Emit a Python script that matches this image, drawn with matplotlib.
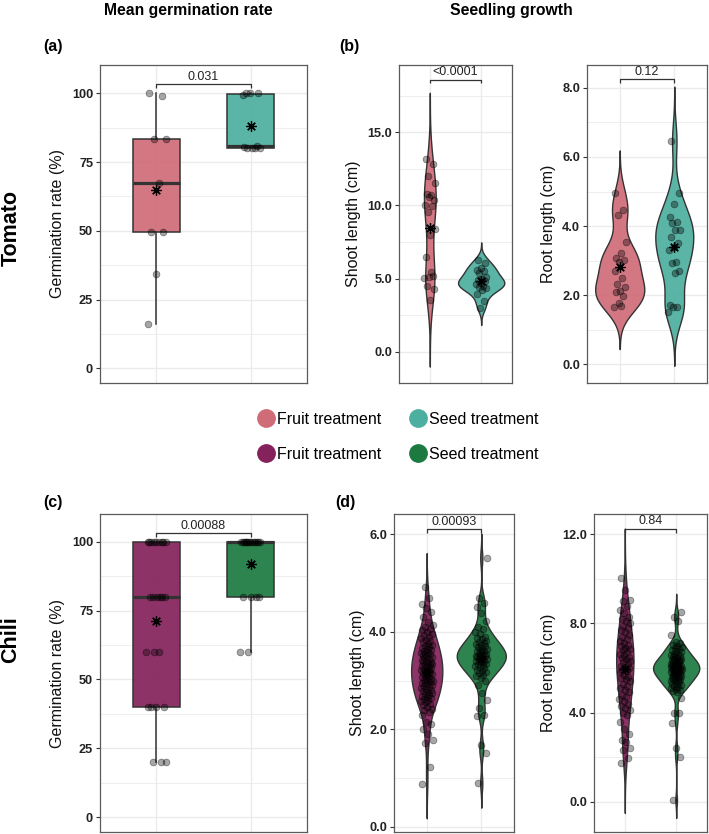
import numpy as np
import matplotlib
matplotlib.use("Agg")
import matplotlib.pyplot as plt
from matplotlib.lines import Line2D
from matplotlib.ticker import MultipleLocator, FormatStrFormatter

plt.rcParams['font.family'] = ['Liberation Sans', 'DejaVu Sans']

# ---------------- data ----------------
groups = ["Fruit treatment", "Seed treatment"]

# Tomato germination rate (%)
tom_germ_fruit = [100, 99, 83.3, 83.3, 67.5, 49.5, 49.5, 34.5, 16]
tom_germ_seed = [100, 100, 100, 99.5, 80, 80, 80, 80, 80.5, 81]
tom_germ_p = "0.031"

# Tomato shoot length (cm)
tom_shoot_fruit = [13.15, 12.8, 12.0, 11.5, 10.7, 10.8, 10.4, 10.6, 10.0, 9.98, 9.53,
                   8.4, 8.0, 6.45, 5.17, 5.1, 5.06, 5.42, 4.49, 4.3, 3.53]
tom_shoot_seed = [6.3, 6.05, 5.75, 5.6, 5.55, 5.35, 5.1, 5.0, 4.9, 4.8, 4.7, 4.6, 4.5,
                  4.45, 4.35, 4.2, 3.95, 3.5, 3.0]
tom_shoot_p = "<0.0001"

# Tomato root length (cm)
tom_root_fruit = [4.96, 4.46, 4.31, 3.54, 3.21, 3.07, 3.02, 2.97, 2.71, 2.49, 2.32, 2.25,
                  2.11, 2.08, 1.98, 1.78, 1.67, 1.70]
tom_root_seed = [6.47, 4.95, 4.64, 4.25, 4.13, 4.10, 3.88, 3.88, 3.69, 3.5, 3.40, 3.30,
                 2.97, 2.93, 2.71, 2.65, 1.72, 1.67, 1.66, 1.52]
tom_root_p = "0.12"

# Chili germination rate (%)
chi_germ_fruit = [100] * 9 + [80] * 6 + [60] * 3 + [40] * 4 + [20] * 3
chi_germ_seed = [100] * 14 + [80] * 4 + [60] * 2
chi_germ_p = "0.00088"

# Chili shoot length (cm)
chi_shoot_fruit = [0.87, 1.23, 1.72, 1.78, 1.9, 2.0, 2.1, 2.15, 2.3, 2.35, 2.4, 2.42, 2.45,
                   2.5, 2.52, 2.55, 2.57, 2.6, 2.62, 2.65, 2.66, 2.69, 2.71, 2.73, 2.75,
                   2.77, 2.79, 2.81, 2.83, 2.85, 2.87, 2.89, 2.91, 2.92, 2.94, 2.96, 2.97,
                   2.99, 3.01, 3.02, 3.04, 3.06, 3.08, 3.1, 3.11, 3.13, 3.14, 3.16, 3.17,
                   3.19, 3.21, 3.23, 3.24, 3.26, 3.27, 3.29, 3.31, 3.32, 3.34, 3.36, 3.38,
                   3.39, 3.41, 3.43, 3.44, 3.46, 3.48, 3.5, 3.52, 3.54, 3.55, 3.57, 3.59,
                   3.61, 3.63, 3.65, 3.67, 3.69, 3.71, 3.74, 3.76, 3.79, 3.81, 3.84, 3.87,
                   3.9, 3.93, 3.96, 4.0, 4.03, 4.06, 4.1, 4.15, 4.2, 4.3, 4.4, 4.5, 4.58,
                   4.7, 4.92]
chi_shoot_seed = [0.89, 1.52, 1.67, 2.28, 2.3, 2.43, 2.6, 2.75, 2.9, 3.0, 3.05, 3.1, 3.12,
                  3.15, 3.18, 3.2, 3.22, 3.25, 3.28, 3.3, 3.32, 3.35, 3.35, 3.38, 3.4, 3.4,
                  3.42, 3.45, 3.45, 3.48, 3.5, 3.5, 3.5, 3.52, 3.55, 3.55, 3.58, 3.6, 3.6,
                  3.62, 3.65, 3.65, 3.68, 3.7, 3.72, 3.75, 3.78, 3.8, 3.82, 3.85, 3.88, 3.9,
                  3.95, 4.0, 4.05, 4.1, 4.23, 4.38, 4.51, 4.6, 4.69, 5.52]
chi_shoot_p = "0.00093"

# Chili root length (cm)
chi_root_fruit = [1.72, 1.95, 2.32, 2.4, 2.7, 2.77, 3.02, 3.25, 3.59, 3.9, 4.0, 4.1, 4.2,
                  4.3, 4.4, 4.5, 4.6, 4.7, 4.8, 4.9, 5.0, 5.1, 5.2, 5.3, 5.4, 5.5, 5.55,
                  5.6, 5.7, 5.8, 5.85, 5.9, 6.0, 6.05, 6.1, 6.2, 6.25, 6.3, 6.4, 6.45, 6.5,
                  6.6, 6.65, 6.7, 6.8, 6.85, 6.9, 7.0, 7.05, 7.1, 7.2, 7.3, 7.4, 7.5, 7.6,
                  7.7, 7.8, 7.9, 8.0, 8.1, 8.2, 8.3, 8.45, 8.6, 8.8, 9.0, 9.05, 9.5, 10.03]
chi_root_seed = [0.07, 2.0, 2.42, 3.52, 4.0, 4.0, 4.64, 4.9, 4.95, 5.0, 5.05, 5.1, 5.15,
                 5.2, 5.25, 5.3, 5.3, 5.35, 5.4, 5.4, 5.45, 5.5, 5.5, 5.55, 5.6, 5.6, 5.62,
                 5.65, 5.7, 5.7, 5.72, 5.75, 5.8, 5.8, 5.82, 5.85, 5.88, 5.9, 5.9, 5.92,
                 5.95, 5.98, 6.0, 6.0, 6.02, 6.05, 6.08, 6.1, 6.1, 6.12, 6.15, 6.18, 6.2,
                 6.2, 6.25, 6.28, 6.3, 6.3, 6.35, 6.38, 6.4, 6.42, 6.45, 6.5, 6.52, 6.55,
                 6.6, 6.62, 6.65, 6.7, 6.75, 6.8, 6.85, 6.9, 6.95, 7.0, 7.05, 7.1, 7.18,
                 7.48, 8.1, 8.3, 8.53]
chi_root_p = "0.84"

# ---------------- style ----------------
TOM_FRUIT = '#D06B78'
TOM_SEED = '#4DAF9F'
CHI_FRUIT = '#85215B'
CHI_SEED = '#1C7A40'
EDGE = '#333333'
GRID = '#EBEBEB'

W, H = 709, 834
fig = plt.figure(figsize=(W / 100, H / 100), dpi=100)


def add_ax(x0, y0, x1, y1):
    return fig.add_axes([x0 / W, 1 - y1 / H, (x1 - x0) / W, (y1 - y0) / H])


def jitter(n, w, phase=0.0):
    return ((np.arange(n) * 0.6180339887 + phase) % 1.0 - 0.5) * 2 * w


def style_axes(ax, ylim, major, minor, fmt, ylabel, labx):
    ax.set_xlim(0.4, 2.6)
    ax.set_ylim(*ylim)
    ax.set_xticks([1, 2])
    ax.set_xticklabels([])
    ax.tick_params(axis='x', length=0)
    ax.yaxis.set_major_locator(MultipleLocator(major))
    ax.yaxis.set_minor_locator(MultipleLocator(minor))
    ax.yaxis.set_major_formatter(FormatStrFormatter(fmt))
    ax.tick_params(axis='y', which='major', length=3, width=0.8, color=EDGE,
                   labelsize=9.2, labelcolor='#222222', pad=2)
    ax.tick_params(axis='y', which='minor', length=0)
    for lab in ax.get_yticklabels():
        lab.set_fontweight('bold')
    ax.grid(True, which='major', axis='both', color=GRID, lw=1.0, zorder=0)
    ax.grid(True, which='minor', axis='y', color=GRID, lw=0.6, zorder=0)
    ax.set_axisbelow(True)
    for s in ax.spines.values():
        s.set_color('#5a5a5a')
        s.set_linewidth(0.9)
    ax.set_ylabel(ylabel, fontsize=11.5, color='#111111')
    ax.yaxis.set_label_coords(labx, 0.5)
    ax.yaxis.label.set_va('center')


def bracket(ax, y, tick, text):
    ax.plot([1, 1, 2, 2], [y - tick, y, y, y - tick], color=EDGE, lw=0.9, zorder=6,
            solid_capstyle='butt')
    ax.text(1.5, y + tick * 0.4, text, ha='center', va='bottom', fontsize=9,
            color='#222222', zorder=6)


def draw_points(ax, datasets, w=0.11):
    for i, d in enumerate(datasets):
        d = np.asarray(d, float)
        xs = (i + 1) + jitter(len(d), w, 0.13 * (i + 1))
        ax.scatter(xs, d, s=24, facecolor=(0, 0, 0, 0.35), edgecolor=(0, 0, 0, 0.45),
                   linewidth=0.5, zorder=4)


def draw_means(ax, datasets):
    for i, d in enumerate(datasets):
        ax.plot([i + 1], [np.mean(d)], ls='', marker=(8, 2, 0), markersize=7.5,
                mew=0.9, color='black', zorder=5)


def box_panel(ax, datasets, colors):
    bp = ax.boxplot(datasets, positions=[1, 2], widths=0.5, whis=1.5, showfliers=False,
                    showcaps=False, patch_artist=True, zorder=2,
                    boxprops=dict(edgecolor=EDGE, linewidth=1.1),
                    whiskerprops=dict(color=EDGE, linewidth=1.1),
                    medianprops=dict(color=EDGE, linewidth=2.3))
    for patch, c in zip(bp['boxes'], colors):
        patch.set_facecolor(matplotlib.colors.to_rgba(c, 0.92))
    draw_points(ax, datasets, 0.11)
    draw_means(ax, datasets)


def nrd0(v):
    v = np.asarray(v, float)
    sd = v.std(ddof=1)
    q1, q3 = np.percentile(v, [25, 75])
    lo = min(sd, (q3 - q1) / 1.34)
    if lo <= 0:
        lo = sd
    return 0.9 * lo * len(v) ** -0.2


def violin_panel(ax, datasets, colors):
    curves = []
    for d in datasets:
        d = np.asarray(d, float)
        bw = nrd0(d)
        y = np.linspace(d.min() - 3 * bw, d.max() + 3 * bw, 512)
        dens = np.exp(-0.5 * ((y[:, None] - d[None, :]) / bw) ** 2).sum(1)
        dens /= (len(d) * bw * np.sqrt(2 * np.pi))
        curves.append((y, dens))
    mx = max(c[1].max() for c in curves)
    for i, ((y, dens), c) in enumerate(zip(curves, colors)):
        hw = dens / mx * 0.45
        ax.fill_betweenx(y, (i + 1) - hw, (i + 1) + hw,
                         facecolor=matplotlib.colors.to_rgba(c, 0.92),
                         edgecolor=EDGE, linewidth=1.0, zorder=2)
    draw_points(ax, datasets, 0.11)
    draw_means(ax, datasets)


# ---------------- panels ----------------
# (a) tomato germination
ax_a = add_ax(100, 65, 307, 383)
box_panel(ax_a, [tom_germ_fruit, tom_germ_seed], [TOM_FRUIT, TOM_SEED])
style_axes(ax_a, (-5.3, 110.3), 25, 12.5, '%d', 'Germination rate (%)', -0.203)
bracket(ax_a, 103.3, 1.3, tom_germ_p)

# (b) tomato shoot
ax_bs = add_ax(399, 65, 512, 383)
violin_panel(ax_bs, [tom_shoot_fruit, tom_shoot_seed], [TOM_FRUIT, TOM_SEED])
style_axes(ax_bs, (-2.14, 19.6), 5, 2.5, '%.1f', 'Shoot length (cm)', -0.407)
bracket(ax_bs, 18.6, 0.26, tom_shoot_p)

# (b) tomato root
ax_br = add_ax(587, 65, 707, 383)
violin_panel(ax_br, [tom_root_fruit, tom_root_seed], [TOM_FRUIT, TOM_SEED])
style_axes(ax_br, (-0.54, 8.66), 2, 1, '%.1f', 'Root length (cm)', -0.325)
bracket(ax_br, 8.25, 0.11, tom_root_p)

# (c) chili germination
ax_c = add_ax(100, 514, 307, 832)
box_panel(ax_c, [chi_germ_fruit, chi_germ_seed], [CHI_FRUIT, CHI_SEED])
style_axes(ax_c, (-5.3, 110.0), 25, 12.5, '%d', 'Germination rate (%)', -0.203)
bracket(ax_c, 103.0, 1.3, chi_germ_p)

# (d) chili shoot
ax_ds = add_ax(394, 514, 514, 832)
violin_panel(ax_ds, [chi_shoot_fruit, chi_shoot_seed], [CHI_FRUIT, CHI_SEED])
style_axes(ax_ds, (-0.11, 6.42), 2, 1, '%.1f', 'Shoot length (cm)', -0.308)
bracket(ax_ds, 6.11, 0.08, chi_shoot_p)

# (d) chili root
ax_dr = add_ax(594, 514, 707, 832)
violin_panel(ax_dr, [chi_root_fruit, chi_root_seed], [CHI_FRUIT, CHI_SEED])
style_axes(ax_dr, (-1.36, 12.91), 4, 2, '%.1f', 'Root length (cm)', -0.407)
bracket(ax_dr, 12.24, 0.18, chi_root_p)

# ---------------- titles & labels ----------------
def ftext(x, y, s, **kw):
    fig.text(x / W, 1 - y / H, s, **kw)

ftext(188, 10, "Mean germination rate", ha='center', va='center', fontsize=11.3,
      fontweight='bold')
ftext(511, 10, "Seedling growth", ha='center', va='center', fontsize=11.3,
      fontweight='bold')
ftext(43, 47, "(a)", ha='left', va='center', fontsize=11.5, fontweight='bold')
ftext(339, 47, "(b)", ha='left', va='center', fontsize=11.5, fontweight='bold')
ftext(43, 502, "(c)", ha='left', va='center', fontsize=11.5, fontweight='bold')
ftext(335, 502, "(d)", ha='left', va='center', fontsize=11.5, fontweight='bold')
ftext(11, 228, "Tomato", ha='center', va='center', fontsize=15.5, fontweight='bold',
      rotation=90)
ftext(11, 640, "Chili", ha='center', va='center', fontsize=15.5, fontweight='bold',
      rotation=90)

# ---------------- legend ----------------
def handle(c):
    return Line2D([], [], ls='', marker='o', markersize=12.5, markerfacecolor=c,
                  markeredgecolor=c)

handles = [handle(TOM_FRUIT), handle(CHI_FRUIT), handle(TOM_SEED), handle(CHI_SEED)]
labels = [groups[0], groups[0], groups[1], groups[1]]
fig.legend(handles, labels, ncol=2, loc='center', bbox_to_anchor=(398.5 / W, 1 - 437 / H),
           frameon=False, fontsize=11.5, handlelength=1.0, handletextpad=0.2,
           columnspacing=1.8, labelspacing=1.25, borderpad=0.2)

fig.savefig("out.png", dpi=100)
